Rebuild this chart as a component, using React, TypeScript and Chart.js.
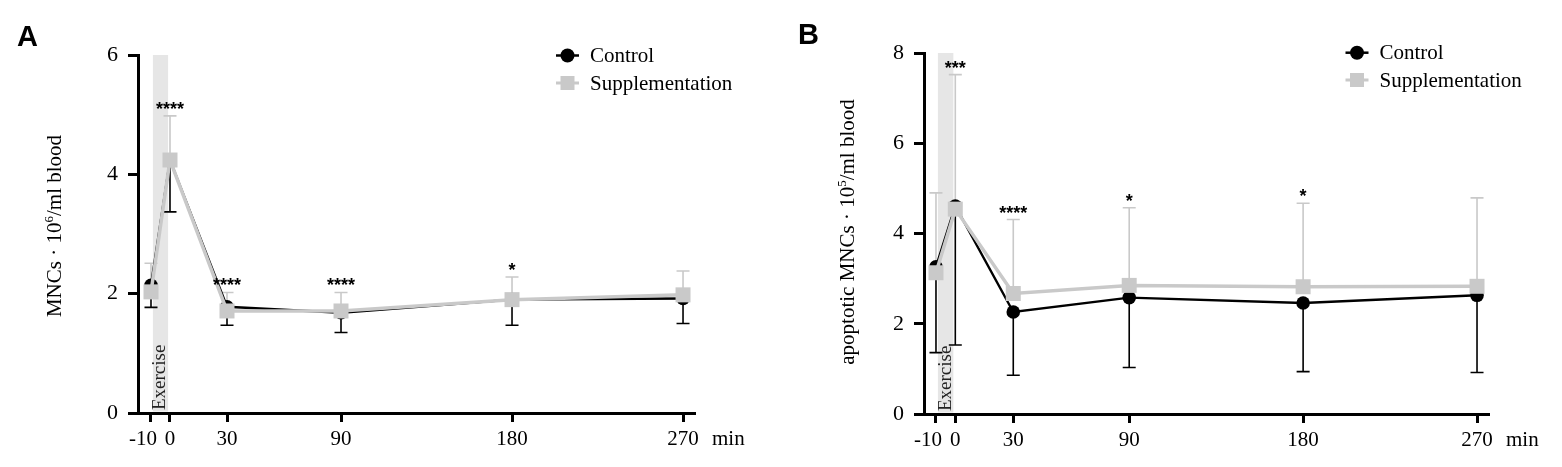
import { useEffect, useRef } from 'react'
import { Chart, registerables } from 'chart.js'

Chart.register(...registerables)

// sampling times (min) and their labels
const minutes = [-10, 0, 30, 90, 180, 270]
const xTickLabels = ['-10', '0', '30', '90', '180', '270']
const exerciseWindow = [-9, -1]

// A: MNCs · 10^6/ml blood
const controlA = [2.14, 4.24, 1.78, 1.68, 1.9, 1.92]
const controlSdA = [0.37, 0.87, 0.31, 0.33, 0.43, 0.42]
const suppA = [2.03, 4.24, 1.71, 1.71, 1.9, 1.98]
const suppSdA = [0.48, 0.74, 0.31, 0.31, 0.38, 0.4]
const starsA = ['', '****', '****', '****', '*', '']
const yTicksA = [0, 2, 4, 6]

// B: apoptotic MNCs · 10^5/ml blood
const controlB = [3.26, 4.61, 2.26, 2.58, 2.46, 2.63]
const controlSdB = [1.9, 3.08, 1.4, 1.55, 1.52, 1.71]
const suppB = [3.13, 4.54, 2.67, 2.85, 2.82, 2.83]
const suppSdB = [1.77, 2.98, 1.64, 1.72, 1.85, 1.96]
const starsB = ['', '***', '****', '*', '*', '']
const yTicksB = [0, 2, 4, 6, 8]

const GRAY = '#c9c9c9'
const BAND = '#e6e6e6'
const SERIF = '"Liberation Serif", "Times New Roman", serif'
const SANS = '"Liberation Sans", Arial, sans-serif'

interface PanelProps {
  letter: string
  yPrefix: string
  yExp: string
  ySuffix: string
  control: number[]
  controlSd: number[]
  supp: number[]
  suppSd: number[]
  stars: string[]
  yTicks: number[]
  left: number
  // layout
  yAxisWidth: number
  padTop: number
  padRight: number
  xAxisHeight: number
  xMin: number
  xMax: number
  titleX: number
  titleY: number
  legendX: number
  legendY: number
  legendGap: number
  letterBaseline: number
}

const W = 781
const H = 467

function Panel(p: PanelProps) {
  const canvasRef = useRef<HTMLCanvasElement>(null)
  const chartRef = useRef<Chart | null>(null)

  useEffect(() => {
    if (!canvasRef.current) return
    chartRef.current?.destroy()

    const decor = {
      id: 'decor',
      beforeDatasetsDraw(chart: Chart) {
        const { ctx, chartArea } = chart
        const x = chart.scales.x
        const y = chart.scales.y
        ctx.save()
        // exercise band
        const bx0 = x.getPixelForValue(exerciseWindow[0])
        const bx1 = x.getPixelForValue(exerciseWindow[1])
        ctx.fillStyle = BAND
        ctx.fillRect(bx0, chartArea.top, bx1 - bx0, chartArea.bottom - chartArea.top - 1.5)
        ctx.save()
        ctx.translate((bx0 + bx1) / 2, chartArea.bottom - 3)
        ctx.rotate(-Math.PI / 2)
        ctx.fillStyle = '#222'
        ctx.font = `19px ${SERIF}`
        ctx.textAlign = 'left'
        ctx.textBaseline = 'middle'
        ctx.fillText('Exercise', 0, 0)
        ctx.restore()

        // error bars: supplementation up, control down
        const bar = (vals: number[], sds: number[], dir: number, color: string) => {
          ctx.strokeStyle = color
          ctx.lineWidth = 1.6
          vals.forEach((v, i) => {
            const px = x.getPixelForValue(minutes[i])
            const y0 = y.getPixelForValue(v)
            const y1 = y.getPixelForValue(v + dir * sds[i])
            ctx.beginPath()
            ctx.moveTo(px, y0)
            ctx.lineTo(px, y1)
            ctx.moveTo(px - 6.5, y1)
            ctx.lineTo(px + 6.5, y1)
            ctx.stroke()
          })
        }
        bar(p.supp, p.suppSd, 1, GRAY)
        bar(p.control, p.controlSd, -1, '#000')
        ctx.restore()
      },
      afterDatasetsDraw(chart: Chart) {
        const { ctx, chartArea } = chart
        const x = chart.scales.x
        const y = chart.scales.y
        ctx.save()

        // significance stars above the upper bar
        ctx.fillStyle = '#000'
        ctx.font = `bold 18px ${SANS}`
        ctx.textAlign = 'center'
        ctx.textBaseline = 'alphabetic'
        p.stars.forEach((s, i) => {
          if (!s) return
          const top = Math.max(p.supp[i] + p.suppSd[i], p.control[i])
          ctx.fillText(s, x.getPixelForValue(minutes[i]), y.getPixelForValue(top) - 1)
        })

        // x tick labels (first one sits left of its tick, as in the original)
        ctx.font = `21px ${SERIF}`
        const base = chartArea.bottom + 32
        minutes.forEach((m, i) => {
          const px = x.getPixelForValue(m)
          if (i === 0) {
            ctx.textAlign = 'right'
            ctx.fillText(xTickLabels[i], px + 6, base)
          } else {
            ctx.textAlign = 'center'
            ctx.fillText(xTickLabels[i], px, base)
          }
        })
        // x unit
        ctx.textAlign = 'left'
        ctx.fillText('min', x.getPixelForValue(minutes[minutes.length - 1]) + 29, base)

        // y title with superscript
        ctx.save()
        ctx.translate(p.titleX, p.titleY)
        ctx.rotate(-Math.PI / 2)
        ctx.font = `21px ${SERIF}`
        const w1 = ctx.measureText(p.yPrefix).width
        const w3 = ctx.measureText(p.ySuffix).width
        ctx.font = `13px ${SERIF}`
        const w2 = ctx.measureText(p.yExp).width
        let cx = -(w1 + w2 + w3) / 2
        ctx.font = `21px ${SERIF}`
        ctx.fillText(p.yPrefix, cx, 0)
        cx += w1
        ctx.font = `13px ${SERIF}`
        ctx.fillText(p.yExp, cx, -8)
        cx += w2
        ctx.font = `21px ${SERIF}`
        ctx.fillText(p.ySuffix, cx, 0)
        ctx.restore()

        // legend
        const rows = [
          { label: 'Control', color: '#000', shape: 'circle', lw: 2.5 },
          { label: 'Supplementation', color: GRAY, shape: 'rect', lw: 3 },
        ]
        rows.forEach((r, k) => {
          const ly = p.legendY + k * p.legendGap
          ctx.strokeStyle = r.color
          ctx.fillStyle = r.color
          ctx.lineWidth = r.lw
          ctx.beginPath()
          ctx.moveTo(p.legendX - 11.5, ly)
          ctx.lineTo(p.legendX + 11.5, ly)
          ctx.stroke()
          if (r.shape === 'circle') {
            ctx.beginPath()
            ctx.arc(p.legendX, ly, 7, 0, Math.PI * 2)
            ctx.fill()
          } else {
            ctx.fillRect(p.legendX - 7, ly - 7, 14, 14)
          }
          ctx.fillStyle = '#000'
          ctx.font = `21px ${SERIF}`
          ctx.textAlign = 'left'
          ctx.textBaseline = 'alphabetic'
          ctx.fillText(r.label, p.legendX + 22.5, ly + 6.5)
        })

        // panel letter
        ctx.font = `bold 29px ${SANS}`
        ctx.fillText(p.letter, 17, p.letterBaseline)
        ctx.restore()
      },
    }

    const pts = (vals: number[]) => vals.map((v, i) => ({ x: minutes[i], y: v }))

    chartRef.current = new Chart(canvasRef.current, {
      type: 'line',
      data: {
        datasets: [
          {
            label: 'Supplementation',
            data: pts(p.supp),
            borderColor: GRAY,
            backgroundColor: GRAY,
            borderWidth: 3.5,
            pointStyle: 'rect',
            pointRadius: 10.6,
            pointBorderWidth: 0,
            tension: 0,
            order: 1,
          },
          {
            label: 'Control',
            data: pts(p.control),
            borderColor: '#000',
            backgroundColor: '#000',
            borderWidth: 2.4,
            pointStyle: 'circle',
            pointRadius: 6.8,
            pointBorderWidth: 0,
            tension: 0,
            order: 2,
          },
        ],
      },
      options: {
        animation: false,
        responsive: false,
        maintainAspectRatio: false,
        devicePixelRatio: 1,
        layout: { padding: { left: 0, top: p.padTop, right: p.padRight, bottom: 0 } },
        plugins: { legend: { display: false }, tooltip: { enabled: false } },
        scales: {
          x: {
            type: 'linear',
            min: p.xMin,
            max: p.xMax,
            afterBuildTicks: (s: any) => { s.ticks = minutes.map(v => ({ value: v })) },
            afterFit: (s: any) => { s.height = p.xAxisHeight },
            ticks: { display: false },
            grid: { drawOnChartArea: false, drawTicks: true, tickLength: 9, tickWidth: 3, tickColor: '#000', color: '#000' },
            border: { display: true, color: '#000', width: 3 },
          },
          y: {
            min: p.yTicks[0],
            max: p.yTicks[p.yTicks.length - 1],
            afterBuildTicks: (s: any) => { s.ticks = p.yTicks.map(v => ({ value: v })) },
            afterFit: (s: any) => { s.width = p.yAxisWidth },
            ticks: {
              padding: 10,
              color: '#000',
              font: { family: SERIF, size: 22 },
            },
            grid: { drawOnChartArea: false, drawTicks: true, tickLength: 10, tickWidth: 3, tickColor: '#000', color: '#000' },
            border: { display: true, color: '#000', width: 3 },
          },
        },
      },
      plugins: [decor],
    })

    return () => { chartRef.current?.destroy() }
  }, [])

  return (
    <canvas
      ref={canvasRef}
      width={W}
      height={H}
      style={{ position: 'absolute', left: p.left, top: 0, width: W, height: H }}
    />
  )
}

export default function App() {
  return (
    <div style={{ position: 'fixed', left: 0, top: 0, width: 1562, height: 467, background: '#fff', overflow: 'hidden' }}>
      <Panel
        letter="A"
        yPrefix="MNCs · 10"
        yExp="6"
        ySuffix="/ml blood"
        control={controlA}
        controlSd={controlSdA}
        supp={suppA}
        suppSd={suppSdA}
        stars={starsA}
        yTicks={yTicksA}
        left={0}
        yAxisWidth={138}
        padTop={55}
        padRight={W - 695}
        xAxisHeight={H - 413}
        xMin={-16.84}
        xMax={276.3}
        titleX={60.5}
        titleY={226}
        legendX={567.5}
        legendY={55.5}
        legendGap={27.5}
        letterBaseline={45.5}
      />
      <Panel
        letter="B"
        yPrefix="apoptotic MNCs · 10"
        yExp="5"
        ySuffix="/ml blood"
        control={controlB}
        controlSd={controlSdB}
        supp={suppB}
        suppSd={suppSdB}
        stars={starsB}
        yTicks={yTicksB}
        left={781}
        yAxisWidth={924 - 781}
        padTop={53}
        padRight={W - (1489 - 781)}
        xAxisHeight={H - 414}
        xMin={-16.2}
        xMax={276.2}
        titleX={854 - 781}
        titleY={232}
        legendX={1357 - 781}
        legendY={52.7}
        legendGap={27.3}
        letterBaseline={44}
      />
    </div>
  )
}
